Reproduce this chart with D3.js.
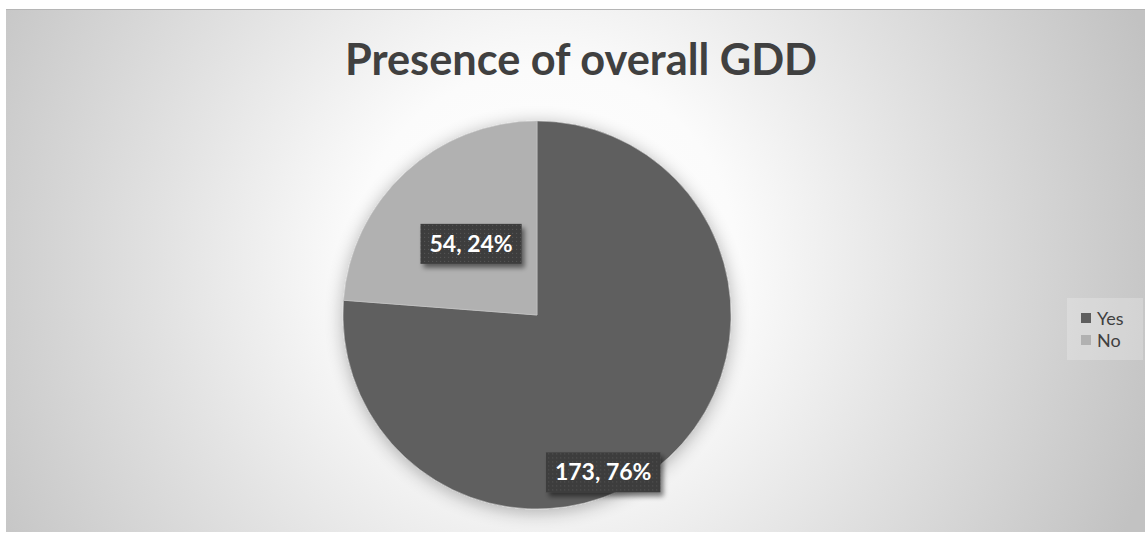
<!DOCTYPE html>
<html>
<head>
<meta charset="utf-8">
<script src="https://cdn.jsdelivr.net/npm/d3@7"></script>
<style>
  html, body { margin: 0; padding: 0; background: #fff; }
  svg { display: block; font-family: Lato, "Open Sans", sans-serif; }
</style>
</head>
<body>
<div id="chart"></div>
<script>
// Data
let categories = ['Yes', 'No'];
let counts = [173, 54];
let percents = ['76%', '24%'];
let colors = ['#5e5e5e', '#b1b1b1'];

let width = 1145;
let height = 533;

// Center and radius of the pie
let cx = 537;
let cy = 315;
let R = 194;

// Where each label sits: [radius fraction, angle offset from slice middle in degrees]
let labelPlace = [[0.88, 20], [0.5, 0]];

let svg = d3.select('#chart').append('svg')
    .attr('width', width)
    .attr('height', height);

let defs = svg.append('defs');

// Background radial gradient
let grad = defs.append('radialGradient')
    .attr('id', 'bg')
    .attr('gradientUnits', 'userSpaceOnUse')
    .attr('cx', 545).attr('cy', 260).attr('r', 640);
grad.append('stop').attr('offset', 0).attr('stop-color', '#ffffff');
grad.append('stop').attr('offset', 0.3).attr('stop-color', '#fbfbfb');
grad.append('stop').attr('offset', 0.6).attr('stop-color', '#e2e2e2');
grad.append('stop').attr('offset', 1).attr('stop-color', '#c2c2c2');

// Soft shadow round the pie
let glow = defs.append('filter').attr('id', 'glow')
    .attr('x', '-20%').attr('y', '-20%').attr('width', '140%').attr('height', '140%');
glow.append('feGaussianBlur').attr('in', 'SourceAlpha').attr('stdDeviation', 9).attr('result', 'b');
glow.append('feOffset').attr('in', 'b').attr('dy', 3).attr('result', 'o');
glow.append('feComponentTransfer').attr('in', 'o').attr('result', 'f')
    .append('feFuncA').attr('type', 'linear').attr('slope', 0.3);
let gm = glow.append('feMerge');
gm.append('feMergeNode').attr('in', 'f');
gm.append('feMergeNode').attr('in', 'SourceGraphic');

// Label box shadow
let shadow = defs.append('filter').attr('id', 'shadow')
    .attr('x', '-20%').attr('y', '-20%').attr('width', '150%').attr('height', '160%');
shadow.append('feGaussianBlur').attr('in', 'SourceAlpha').attr('stdDeviation', 2.5).attr('result', 'b');
shadow.append('feOffset').attr('in', 'b').attr('dx', 3).attr('dy', 4).attr('result', 'o');
shadow.append('feComponentTransfer').attr('in', 'o').attr('result', 'f')
    .append('feFuncA').attr('type', 'linear').attr('slope', 0.5);
let sm = shadow.append('feMerge');
sm.append('feMergeNode').attr('in', 'f');
sm.append('feMergeNode').attr('in', 'SourceGraphic');

// Dotted fill for label boxes
let pat = defs.append('pattern').attr('id', 'dots')
    .attr('patternUnits', 'userSpaceOnUse').attr('width', 4).attr('height', 4);
pat.append('rect').attr('width', 4).attr('height', 4).attr('fill', '#3d3d3d');
pat.append('rect').attr('x', 1).attr('y', 1).attr('width', 1).attr('height', 1).attr('fill', '#575757');

// Chart area
svg.append('rect')
    .attr('x', 6).attr('y', 9)
    .attr('width', width - 6).attr('height', height - 10)
    .attr('fill', 'url(#bg)');
svg.append('line')
    .attr('x1', 6).attr('x2', width).attr('y1', 9.5).attr('y2', 9.5)
    .attr('stroke', '#b5b5b5');

// Title
svg.append('text')
    .attr('x', 581).attr('y', 75)
    .attr('text-anchor', 'middle')
    .attr('font-size', 44)
    .attr('font-weight', 'bold')
    .attr('fill', '#404040')
    .attr('textLength', 472)
    .attr('lengthAdjust', 'spacingAndGlyphs')
    .text('Presence of overall GDD');

// Pie
let pie = d3.pie().sort(null).value(d => d)(counts);
let arc = d3.arc().innerRadius(0).outerRadius(R);

let g = svg.append('g').attr('transform', `translate(${cx}, ${cy})`);
g.append('g').attr('filter', 'url(#glow)')
    .selectAll('path').data(pie).enter().append('path')
    .attr('d', arc)
    .attr('fill', (d, i) => colors[i])
    .attr('stroke', '#c8c8c8')
    .attr('stroke-width', 0.6);

// Data labels
pie.forEach((d, i) => {
    let mid = (d.startAngle + d.endAngle) / 2 + labelPlace[i][1] * Math.PI / 180;
    let r = R * labelPlace[i][0];
    let lx = Math.sin(mid) * r;
    let ly = -Math.cos(mid) * r;
    let lg = g.append('g').attr('transform', `translate(${lx}, ${ly})`);
    let txt = lg.append('text')
        .attr('text-anchor', 'middle')
        .attr('y', 8)
        .attr('font-size', 23)
        .attr('font-weight', 'bold')
        .attr('fill', '#ffffff')
        .text(counts[i] + ', ' + percents[i]);
    let bb = txt.node().getBBox();
    lg.insert('rect', 'text')
        .attr('x', bb.x - 9).attr('y', -20)
        .attr('width', bb.width + 18).attr('height', 40)
        .attr('fill', 'url(#dots)')
        .attr('filter', 'url(#shadow)');
});

// Legend
let legend = svg.append('g');
legend.append('rect')
    .attr('x', 1067).attr('y', 298)
    .attr('width', 76).attr('height', 62)
    .attr('fill', '#ffffff').attr('fill-opacity', 0.22);
let items = legend.selectAll('g.item').data(categories).enter().append('g')
    .attr('class', 'item')
    .attr('transform', (d, i) => `translate(1081, ${318 + i * 22})`);
items.append('rect')
    .attr('x', 0).attr('y', -5)
    .attr('width', 10).attr('height', 10)
    .attr('fill', (d, i) => colors[i]);
items.append('text')
    .attr('x', 16).attr('y', 6.5)
    .attr('font-size', 18)
    .attr('fill', '#404040')
    .text(d => d);
</script>
</body>
</html>
